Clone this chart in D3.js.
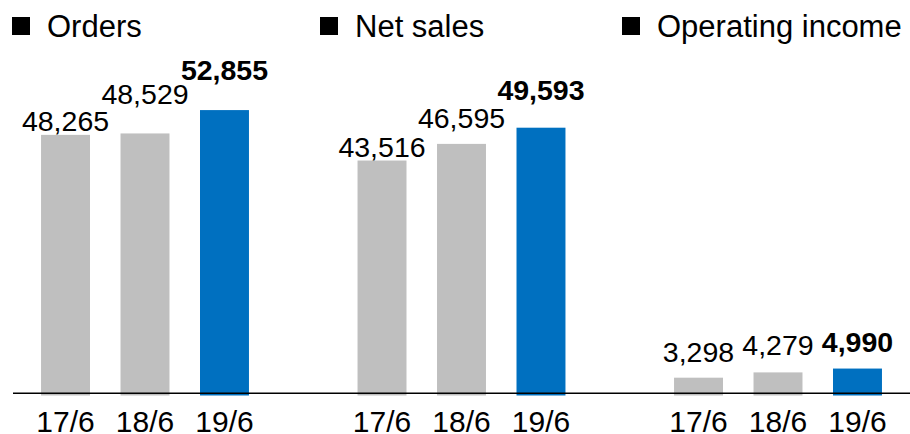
<!DOCTYPE html>
<html>
<head>
<meta charset="utf-8">
<script src="https://cdn.jsdelivr.net/npm/d3@7"></script>
<style>
  html, body { margin: 0; padding: 0; background: #fff; }
  svg { display: block; font-family: "Liberation Sans", Arial, sans-serif; }
</style>
</head>
<body>
<svg id="chart" width="910" height="434"></svg>
<script>
// ---- data ----
const metrics = ["Orders", "Net sales", "Operating income"];
const years = ["17/6", "18/6", "19/6"];
const orders = [48265, 48529, 52855];
const netSales = [43516, 46595, 49593];
const operatingIncome = [3298, 4279, 4990];
const seriesValues = [orders, netSales, operatingIncome];

// ---- layout (not data) ----
const W = 910, H = 434;
const baseY = 395.5;
const axisY = 393.3;
const labelLift = [[4, 29, 30], [4, 16, 28], [16, 17, 17]];
const legendX = [12, 320, 622];
const grayColor = "#BFBFBF";
const blueColor = "#0070C0";

const svg = d3.select("#chart");

const x0 = d3.scaleBand().domain(metrics).range([-13.25, -13.25 + 316.5 * 3]).padding(0);
const x1 = d3.scaleBand().domain(years).range([0, x0.bandwidth()])
  .paddingInner(0.384).paddingOuter(0.683);
const y = d3.scaleLinear().domain([0, 60000]).range([baseY, baseY - 324]);

const fmt = d3.format(",");

metrics.forEach((m, gi) => {
  const g = svg.append("g").attr("transform", `translate(${x0(m)},0)`);
  const vals = seriesValues[gi];
  const rows = years.map((yr, i) => ({ yr, v: vals[i], i }));

  g.selectAll("rect.bar").data(rows).join("rect")
    .attr("class", "bar")
    .attr("x", d => x1(d.yr))
    .attr("width", x1.bandwidth())
    .attr("y", d => y(d.v))
    .attr("height", d => y(0) - y(d.v))
    .attr("fill", d => d.i === years.length - 1 ? blueColor : grayColor);

  g.selectAll("text.val").data(rows).join("text")
    .attr("class", "val")
    .attr("x", d => x1(d.yr) + x1.bandwidth() / 2)
    .attr("y", d => y(d.v) - labelLift[gi][d.i])
    .attr("text-anchor", "middle")
    .attr("font-size", 28.5)
    .attr("font-weight", d => d.i === years.length - 1 ? "bold" : "normal")
    .attr("fill", "#000")
    .text(d => fmt(d.v));

  // category axis
  const ax = g.append("g").attr("transform", `translate(0,${baseY})`)
    .call(d3.axisBottom(x1).tickSize(0).tickPadding(0));
  ax.select(".domain").remove();
  ax.selectAll("text")
    .attr("font-size", 30)
    .attr("font-family", "'Liberation Sans', Arial, sans-serif")
    .attr("fill", "#000")
    .attr("dy", null)
    .attr("y", 36.3);

  // legend title
  svg.append("rect")
    .attr("x", legendX[gi]).attr("y", 17)
    .attr("width", 18).attr("height", 18)
    .attr("fill", "#000");
  svg.append("text")
    .attr("x", legendX[gi] + 35).attr("y", 36.5)
    .attr("font-size", 31)
    .attr("fill", "#000")
    .text(m);
});

// baseline
svg.append("line")
  .attr("x1", 13).attr("x2", W)
  .attr("y1", axisY).attr("y2", axisY)
  .attr("stroke", "#000").attr("stroke-width", 1.6);
</script>
</body>
</html>
